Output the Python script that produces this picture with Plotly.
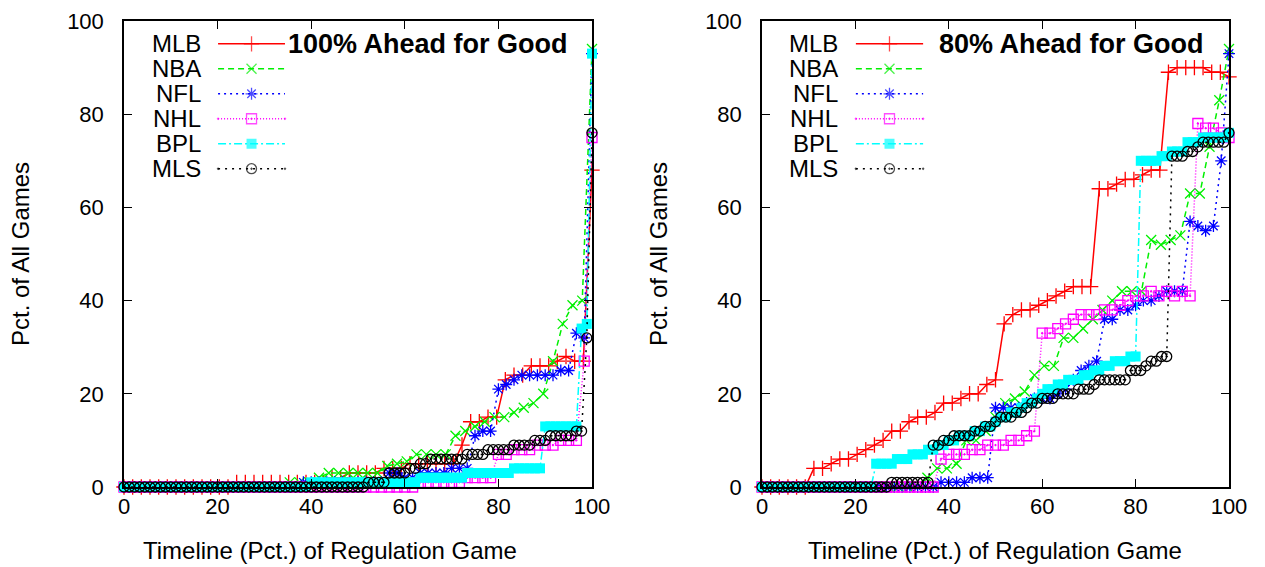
import numpy as np
import plotly.graph_objects as go

# ---------------------------------------------------------------------------
# Data: share of games (%) whose eventual winner was ahead for good at each
# point of the regulation timeline.  Each league is sampled on its own clock
# (MLB 54 outs, NBA 48 min, NFL/NHL 60 min, soccer 90 min).
# ---------------------------------------------------------------------------
LEAGUES = ["MLB", "NBA", "NFL", "NHL", "BPL", "MLS"]
PANEL_TITLES = ["100% Ahead for Good", "80% Ahead for Good"]
X_TICKS = [0, 20, 40, 60, 80, 100]
Y_TICKS = [0, 20, 40, 60, 80, 100]
X_LABEL = "Timeline (Pct.) of Regulation Game"
Y_LABEL = "Pct. of All Games"

# --- 100% ahead for good ---
mlb_100 = [0, 0, 0, 0, 0, 0, 0, 0, 0, 0, 0, 0, 0,
           1, 1, 1, 1, 1, 1, 1, 1, 1, 1, 1,
           2, 2, 3, 3, 3, 3, 4, 4, 4, 5, 5, 5, 5, 5, 5,
           9, 14, 14, 15, 15, 23, 24, 24, 26, 26, 26, 27, 28, 27, 27, 68]
nba_100 = [0, 0, 0, 0, 0, 0, 0, 0, 0, 0, 0, 0, 0, 0, 0, 0, 0,
           1, 1, 1, 2, 3, 3, 3, 3, 3, 3, 4.5, 5, 5.5, 7, 7, 7, 7,
           11, 12, 13, 14, 15, 15, 16, 17, 18, 20, 27, 35, 39, 40, 94]
nfl_100 = [0, 0, 0, 0, 0, 0, 0, 0, 0, 0, 0, 0, 0, 0, 0, 0, 0, 0, 0, 0, 0, 0, 0,
           1, 1, 1, 1, 1, 1, 1, 1, 1, 1, 1, 3, 3,
           2, 2, 3, 3, 3, 3, 4, 4, 4,
           11, 12, 12, 21, 22, 23, 24, 24, 24, 24, 24, 25, 25, 33, 32, 93]
nhl_100 = [0] * 38 + [1, 1, 1, 1, 1, 1, 2, 2, 2, 2, 7, 7, 8, 8, 8,
                      9, 9, 9, 10, 10, 10, 27, 75]
bpl_100 = [0] * 36 + [1] * 21 + [2] * 9 + [3] * 9 + [4] * 6 + [13] * 7 + [34, 35, 93]
mls_100 = [0] * 47 + [1, 1, 1, 1, 3, 3, 3, 3, 4, 4, 5, 5,
                      6, 6, 6, 6, 6, 6, 6, 7, 7, 7, 7, 8, 8, 8, 8, 8,
                      9, 9, 9, 9, 10, 10, 10, 11, 11, 11, 11, 11, 12, 12, 32, 76]

# --- 80% ahead for good ---
mlb_80 = [0, 0, 0, 0, 0, 0,
          4, 4, 5, 6, 6, 7, 8, 9, 10, 12, 12, 14, 15, 15, 16, 18, 18, 19, 20, 20, 22, 23,
          35, 37, 38, 38, 39, 40, 41, 42, 43, 43, 43,
          64, 64, 65, 66, 66, 67, 68, 68,
          89, 90, 90, 90, 90, 89, 89, 88]
nba_80 = [0] * 17 + [2, 4, 4, 5, 10, 10, 12, 15, 18, 19, 20.5, 24, 26, 26, 32, 32,
                     34, 36, 38, 40, 42, 42, 42, 53, 52, 53, 54, 63, 63, 73, 83, 94]
nfl_80 = [0] * 23 + [1, 1, 1, 1, 2, 2, 2,
                     17, 17, 17, 17, 18, 19, 19, 19, 20, 21, 23, 25, 26, 27,
                     36, 36, 38, 38, 39, 40, 40, 41, 42, 42, 42,
                     57, 56, 55, 56, 70, 93]
nhl_80 = [0] * 23 + [6, 7, 7, 7, 8, 8, 9, 9, 9, 10, 10, 11, 12,
                     33, 33, 34, 35, 36, 37, 37, 37, 38, 38, 39, 40, 41, 41,
                     42, 41, 42, 41, 42, 41,
                     78, 77, 77, 76, 75]
bpl_80 = [0] * 22 + [5, 5, 5, 5, 6, 6, 6, 7, 7, 7, 8, 8, 9, 9, 10, 10, 11, 11, 11,
                     12, 12, 13, 13, 14, 15, 15, 16, 16, 17, 18, 18, 19, 20, 21, 21,
                     22, 22, 23, 23, 23, 24, 24, 25, 25, 26, 26, 27, 27, 27, 28, 28,
                     70, 70, 70, 70, 71, 71, 72, 72, 72, 74, 74, 74,
                     75, 75, 75, 75, 75, 76]
mls_80 = [0] * 25 + [1] * 8 + [9, 9, 10, 10, 11, 11, 11, 11, 12, 12, 13, 13, 14,
                               15, 15, 15, 16, 16, 17, 18, 18, 19, 19, 19,
                               20, 20, 20, 20, 21, 21, 21, 22,
                               23, 23, 23, 23, 23, 23, 25, 25, 25, 26, 27, 27, 28, 28,
                               71, 71, 71, 72, 72, 73, 74, 74, 74, 74, 74, 76]

PANELS = [
    {"MLB": mlb_100, "NBA": nba_100, "NFL": nfl_100,
     "NHL": nhl_100, "BPL": bpl_100, "MLS": mls_100},
    {"MLB": mlb_80, "NBA": nba_80, "NFL": nfl_80,
     "NHL": nhl_80, "BPL": bpl_80, "MLS": mls_80},
]

# ---------------------------------------------------------------------------
# Styling (gnuplot-like)
# ---------------------------------------------------------------------------
FONT = "Liberation Sans"
STYLE = {
    "MLB": dict(color="#ff0000", dash="solid", symbol="cross-thin", size=11),
    "NBA": dict(color="#00f000", dash="6px,4px", symbol="x-thin", size=10),
    "NFL": dict(color="#0000ff", dash="2px,4px", symbol="asterisk-open", size=10),
    "NHL": dict(color="#ff00ff", dash="1px,2px", symbol="square-open-dot", size=10),
    "BPL": dict(color="#00ffff", dash="8px,3px,2px,3px", symbol="square", size=10),
    "MLS": dict(color="#000000", dash="2px,5px", symbol="circle-open-dot", size=10),
}

W, H = 1265, 567
X_DOMAINS = [[124 / W, 592 / W], [762 / W, 1229 / W]]
Y_DOMAIN = [1 - 487 / H, 1 - 21 / H]

# key layout, in fractions of each plot area
KEY_LABEL_X = [0.169, 0.167]
KEY_LINE_X = [(0.201, 0.344), (0.201, 0.345)]
KEY_TITLE_X = [0.346, 0.375]
KEY_TOP = 0.951
KEY_STEP = 0.0536

fig = go.Figure()
annotations = []

for p, data in enumerate(PANELS):
    xa = "x" if p == 0 else "x2"
    ya = "y" if p == 0 else "y2"
    for i, lg in enumerate(LEAGUES):
        st = STYLE[lg]
        vals = data[lg]
        xs = np.linspace(0, 100, len(vals))
        mk = dict(symbol=st["symbol"], size=st["size"], color=st["color"],
                  line=dict(color=st["color"], width=0 if st["symbol"] == "square" else 1.3))
        fig.add_trace(go.Scatter(
            x=xs, y=vals, mode="lines+markers", xaxis=xa, yaxis=ya,
            line=dict(color=st["color"], width=1.5, dash=st["dash"]),
            marker=mk, cliponaxis=False, showlegend=False, hoverinfo="skip"))

        # key sample: line with a single symbol in the middle
        ky = (KEY_TOP - i * KEY_STEP) * 100
        x0, x1 = KEY_LINE_X[p][0] * 100, KEY_LINE_X[p][1] * 100
        kmk = dict(mk)
        kmk["size"] = [0, st["size"], 0]
        fig.add_trace(go.Scatter(
            x=[x0, (x0 + x1) / 2, x1], y=[ky, ky, ky], mode="lines+markers",
            xaxis=xa, yaxis=ya,
            line=dict(color=st["color"], width=1.5, dash=st["dash"]),
            marker=kmk, showlegend=False, hoverinfo="skip"))
        annotations.append(dict(
            text=lg, xref=f"{xa} domain", yref=f"{ya} domain",
            x=KEY_LABEL_X[p], y=KEY_TOP - i * KEY_STEP,
            xanchor="right", yanchor="middle", showarrow=False,
            font=dict(family=FONT, size=24, color="black")))

    annotations.append(dict(
        text=f"<b>{PANEL_TITLES[p]}</b>", xref=f"{xa} domain", yref=f"{ya} domain",
        x=KEY_TITLE_X[p], y=KEY_TOP, xanchor="left", yanchor="middle",
        showarrow=False, font=dict(family=FONT, size=27, color="black")))

# axis titles
annotations += [
    dict(text=X_LABEL, xref="paper", yref="paper", x=330 / W, y=1 - 550 / H,
         xanchor="center", yanchor="middle", showarrow=False,
         font=dict(family=FONT, size=24, color="black")),
    dict(text=X_LABEL, xref="paper", yref="paper", x=995 / W, y=1 - 550 / H,
         xanchor="center", yanchor="middle", showarrow=False,
         font=dict(family=FONT, size=24, color="black")),
    dict(text=Y_LABEL, xref="paper", yref="paper", x=20 / W, y=1 - 254 / H,
         xanchor="center", yanchor="middle", textangle=-90, showarrow=False,
         font=dict(family=FONT, size=24, color="black")),
    dict(text=Y_LABEL, xref="paper", yref="paper", x=658 / W, y=1 - 254 / H,
         xanchor="center", yanchor="middle", textangle=-90, showarrow=False,
         font=dict(family=FONT, size=24, color="black")),
]

axis_common = dict(
    range=[0, 100], ticks="inside", ticklen=8, tickwidth=1, tickcolor="black",
    showline=True, linecolor="black", linewidth=1.5, mirror="ticks",
    showgrid=False, zeroline=False, automargin=False,
    tickfont=dict(family=FONT, size=22, color="black"),
)

fig.update_layout(
    width=W, height=H, autosize=False,
    margin=dict(l=0, r=0, t=0, b=0, pad=0, autoexpand=False),
    paper_bgcolor="white", plot_bgcolor="white",
    showlegend=False, annotations=annotations,
    xaxis=dict(axis_common, domain=X_DOMAINS[0], tickvals=X_TICKS, anchor="y",
               ticklabelstandoff=-1),
    yaxis=dict(axis_common, domain=Y_DOMAIN, tickvals=Y_TICKS, anchor="x",
               ticklabelstandoff=14),
    xaxis2=dict(axis_common, domain=X_DOMAINS[1], tickvals=X_TICKS, anchor="y2",
                ticklabelstandoff=-1),
    yaxis2=dict(axis_common, domain=Y_DOMAIN, tickvals=Y_TICKS, anchor="x2",
                ticklabelstandoff=14),
)

fig.write_html("out.html")
